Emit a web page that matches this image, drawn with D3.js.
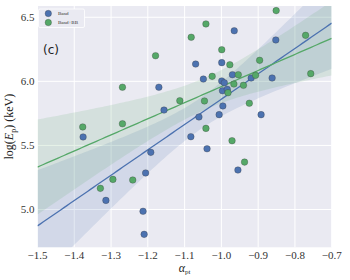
<html>
  <head>
    <style>
      body {
        margin: 0;
        background: #fff;
      }
      svg {
        width: 350px;
        height: 280px;
        display: block;
      }
      .tick-label {
        font-family: "Liberation Serif", "DejaVu Serif", serif;
        font-size: 11px;
        fill: #333;
      }
      .grid line {
        stroke: #fff;
        stroke-width: 1;
      }
    </style>
  </head>
  <body>
    <script src="https://d3js.org/d3.v7.min.js"></script>
    <script>
      // Band
      const bandX = [-1.376, -1.170, -1.156, -0.965, -0.852, -1.070, -0.999, -1.049, -0.970,
        -0.999, -0.992, -0.997, -0.984, -0.919, -0.862, -0.996, -1.061, -1.006, -0.892,
        -1.083, -1.039, -0.955, -1.192, -1.206, -1.314, -1.213, -1.210];
      const bandY = [5.566, 5.954, 5.776, 6.395, 6.323, 6.135, 6.146, 6.018, 6.052,
        6.003, 5.989, 5.927, 5.938, 6.026, 6.026, 5.808, 5.722, 5.740, 5.740,
        5.568, 5.474, 5.308, 5.446, 5.285, 5.071, 4.986, 4.806];
      // Band+BB
      const bbX = [-1.377, -1.269, -1.269, -1.179, -0.851, -1.042, -1.082, -0.999, -0.771,
        -0.977, -0.896, -1.025, -0.954, -0.907, -0.966, -0.940, -0.982, -0.757,
        -1.113, -1.046, -0.924, -1.042, -0.971, -0.937, -1.295, -1.241, -1.329];
      const bbY = [5.644, 5.954, 5.669, 6.200, 6.552, 6.448, 6.344, 6.247, 6.359,
        6.130, 6.164, 6.039, 6.052, 6.047, 5.979, 5.969, 5.911, 6.060,
        5.849, 5.847, 5.829, 5.633, 5.537, 5.370, 5.235, 5.230, 5.165];
      const seriesNames = ["Band", "Band+BB"];
      const seriesColors = ["#4C72B0", "#55A868"];
      const xTicks = [-1.5, -1.4, -1.3, -1.2, -1.1, -1.0, -0.9, -0.8, -0.7];
      const yTicks = [5.0, 5.5, 6.0, 6.5];

      const pLeft = 37.5, pRight = 331.7, pTop = 6, pBottom = 247.3;
      const x = d3.scaleLinear().domain([-1.5, -0.7]).range([pLeft, pRight]);
      const y = d3.scaleLinear().domain([4.705, 6.588]).range([pBottom, pTop]);

      const svg = d3.select("body").append("svg");
      svg.append("defs").append("clipPath").attr("id", "plot-clip")
        .append("rect").attr("x", pLeft).attr("y", pTop)
        .attr("width", pRight - pLeft).attr("height", pBottom - pTop);

      svg.append("rect")
        .attr("x", pLeft).attr("y", pTop)
        .attr("width", pRight - pLeft).attr("height", pBottom - pTop)
        .attr("fill", "#EAEAF2");

      const grid = svg.append("g").attr("class", "grid");
      xTicks.forEach((t) => {
        grid.append("line").attr("x1", x(t)).attr("x2", x(t)).attr("y1", pTop).attr("y2", pBottom);
      });
      yTicks.forEach((t) => {
        grid.append("line").attr("x1", pLeft).attr("x2", pRight).attr("y1", y(t)).attr("y2", y(t));
      });

      const fmt = d3.format(".1f");
      xTicks.forEach((t) => {
        svg.append("text").attr("class", "tick-label")
          .attr("x", x(t)).attr("y", pBottom + 12)
          .attr("text-anchor", "middle").text(fmt(t));
      });
      yTicks.forEach((t) => {
        svg.append("text").attr("class", "tick-label")
          .attr("x", pLeft - 3).attr("y", y(t) + 3.5)
          .attr("text-anchor", "end").text(fmt(t));
      });

      // linear fit + 95% band
      function fit(xs, ys) {
        const n = xs.length;
        const mx = d3.mean(xs), my = d3.mean(ys);
        let sxx = 0, sxy = 0;
        xs.forEach((v, i) => { sxx += (v - mx) ** 2; sxy += (v - mx) * (ys[i] - my); });
        const b = sxy / sxx, a = my - b * mx;
        let sse = 0;
        xs.forEach((v, i) => { sse += (ys[i] - a - b * v) ** 2; });
        const s = Math.sqrt(sse / (n - 2));
        const tval = 2.06;
        const gx = d3.range(0, 101).map((i) => -1.5 + i * 0.008);
        return gx.map((g) => {
          const yh = a + b * g;
          const se = s * Math.sqrt(1 / n + (g - mx) ** 2 / sxx);
          return { x: g, y: yh, lo: yh - tval * se, hi: yh + tval * se };
        });
      }

      const plot = svg.append("g").attr("clip-path", "url(#plot-clip)");
      const fits = [fit(bandX, bandY), fit(bbX, bbY)];
      const area = d3.area().x((d) => x(d.x)).y0((d) => y(d.lo)).y1((d) => y(d.hi));
      const line = d3.line().x((d) => x(d.x)).y((d) => y(d.y));

      fits.forEach((f, i) => {
        plot.append("path").attr("d", area(f))
          .attr("fill", seriesColors[i]).attr("fill-opacity", 0.15);
      });
      fits.forEach((f, i) => {
        plot.append("path").attr("d", line(f))
          .attr("fill", "none").attr("stroke", seriesColors[i]).attr("stroke-width", 1.3);
      });

      const sets = [[bandX, bandY], [bbX, bbY]];
      sets.forEach(([xs, ys], i) => {
        xs.forEach((v, j) => {
          plot.append("circle")
            .attr("cx", x(v)).attr("cy", y(ys[j])).attr("r", 3.3)
            .attr("fill", seriesColors[i])
            .attr("stroke", "#333").attr("stroke-opacity", 0.6).attr("stroke-width", 0.5);
        });
      });

      // legend
      const legend = svg.append("g");
      legend.append("rect")
        .attr("x", 38.5).attr("y", 9).attr("width", 46).attr("height", 18.5).attr("rx", 1.5)
        .attr("fill", "#EAEAF2").attr("stroke", "#fff").attr("stroke-width", 0.8);
      seriesNames.forEach((name, i) => {
        legend.append("circle")
          .attr("cx", 48.3).attr("cy", 13.5 + i * 9).attr("r", 3.2)
          .attr("fill", seriesColors[i])
          .attr("stroke", "#333").attr("stroke-opacity", 0.6).attr("stroke-width", 0.5);
        legend.append("text")
          .attr("x", 58).attr("y", 15.3 + i * 9)
          .attr("font-family", "Liberation Serif, serif").attr("font-size", 5)
          .attr("fill", "#333").text(name);
      });

      svg.append("text")
        .attr("x", 43).attr("y", 54)
        .attr("font-family", "DejaVu Sans, sans-serif").attr("font-size", 12)
        .attr("fill", "#222").text("(c)");

      // axis labels
      const yl = svg.append("text")
        .attr("transform", "translate(13," + ((pTop + pBottom) / 2) + ") rotate(-90)")
        .attr("text-anchor", "middle")
        .attr("font-family", "Liberation Serif, serif").attr("font-size", 12).attr("fill", "#222");
      yl.append("tspan").text("log(");
      yl.append("tspan").attr("font-style", "italic").text("E");
      yl.append("tspan").attr("font-size", 8).attr("dy", 2.5).text("p");
      yl.append("tspan").attr("dy", -2.5).text(") (keV)");

      const xl = svg.append("text")
        .attr("x", (pLeft + pRight) / 2).attr("y", 272)
        .attr("text-anchor", "middle")
        .attr("font-family", "Liberation Serif, serif").attr("font-size", 12).attr("fill", "#222");
      xl.append("tspan").attr("font-style", "italic").text("α");
      xl.append("tspan").attr("font-size", 7).attr("dy", 2).text("pt");
    </script>
  </body>
</html>
